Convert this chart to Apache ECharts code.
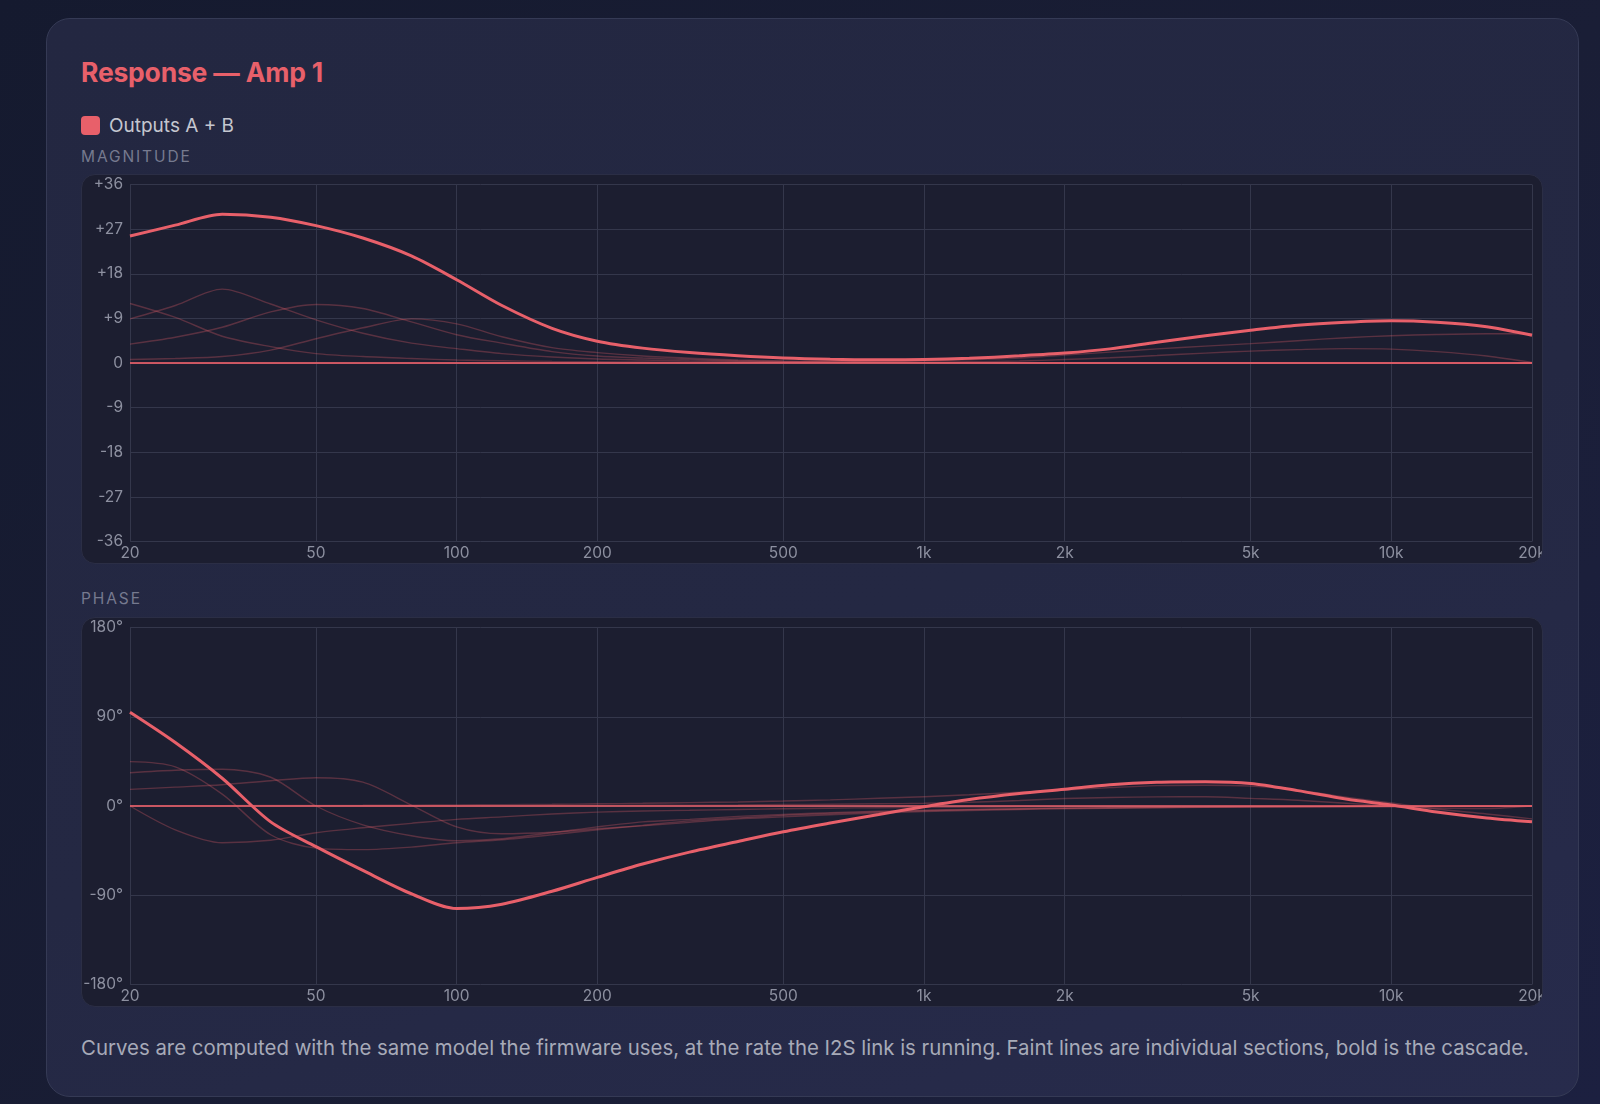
<!DOCTYPE html>
<html>
<head>
<meta charset="utf-8">
<script src="https://cdn.jsdelivr.net/npm/echarts@6/dist/echarts.min.js"></script>
<style>
  html, body { margin:0; padding:0; width:1600px; height:1104px; overflow:hidden;
    background: linear-gradient(135deg, #151a2f 0%, #1a1e36 60%, #1c2040 100%);
    font-family: Inter, "Noto Sans", "DejaVu Sans", sans-serif; }
  .card { position:absolute; left:46px; top:18px; width:1533px; height:1079px; box-sizing:border-box;
    border-radius:24px; border:1px solid #353a55;
    background: linear-gradient(160deg, #232741 0%, #242843 55%, #272b4c 100%); }
  .title { position:absolute; left:81px; top:55px; font-size:26.5px; font-weight:700; color:#e8606a; letter-spacing:-0.2px; line-height:34px; }
  .legend { position:absolute; left:81px; top:115px; height:20px; display:flex; align-items:center; }
  .sw { width:19px; height:19px; border-radius:4px; background:#e8606a; }
  .lt { margin-left:9px; font-size:19px; color:#c4c6cf; }
  .sec { position:absolute; left:81px; font-size:15.5px; letter-spacing:1.9px; color:#767a8f; }
  .box { position:absolute; left:81px; width:1462px; height:390px; box-sizing:border-box; border-radius:14px;
    background:#1c1e30; border:1px solid #2b2e45; overflow:hidden; }
  .chart { position:absolute; left:-1px; top:-1px; width:1462px; height:390px; }
  .note { position:absolute; left:81px; top:1035px; font-size:20.4px; color:#a7aab8; white-space:nowrap; }
</style>
</head>
<body>
<div class="card"></div>
<div class="title">Response — Amp 1</div>
<div class="legend"><div class="sw"></div><div class="lt">Outputs A + B</div></div>
<div class="sec" style="top:147px">MAGNITUDE</div>
<div class="box" style="top:174px"><div id="mag" class="chart"></div></div>
<div class="sec" style="top:589px">PHASE</div>
<div class="box" style="top:617px"><div id="ph" class="chart"></div></div>
<div class="note">Curves are computed with the same model the firmware uses, at the rate the I2S link is running. Faint lines are individual sections, bold is the cascade.</div>
<script>
// ---- data (third-octave points) ----
const freqs = [20,25,31.5,40,50,63,80,100,125,160,200,250,315,400,500,630,800,1000,1250,1600,2000,2500,3150,4000,5000,6300,8000,10000,12500,16000,20000];
const freqTicks = [20,50,100,200,500,1000,2000,5000,10000,20000];

// magnitude (dB)
const cascadeMag = [25.6,27.8,30.0,29.4,27.7,25.2,21.6,16.8,11.6,7.0,4.4,3.0,2.1,1.45,1.0,0.75,0.65,0.7,0.95,1.45,2.0,2.85,4.2,5.5,6.6,7.6,8.2,8.5,8.2,7.3,5.6];
const sec1Mag = [12.0,9.2,5.4,3.3,1.9,1.3,0.9,0.6,0.45,0.33,0.25,0.2,0.15,0.1,0.07,0.05,0.04,0.03,0.02,0.02,0.01,0,0,0,0,0,0,0,0,0,0];
const sec2Mag = [8.9,11.6,14.9,11.9,8.7,6.0,4.0,2.9,1.9,1.2,0.8,0.6,0.42,0.3,0.2,0.13,0.08,0.05,0.03,0.02,0.01,0,0,0,0,0,0,0,0,0,0];
const sec3Mag = [3.8,5.2,7.2,10.3,11.8,11.0,8.3,5.7,4.0,2.3,1.4,1.0,0.7,0.45,0.3,0.2,0.12,0.08,0.05,0.03,0.02,0,0,0,0,0,0,0,0,0,0];
const sec4Mag = [0.7,0.9,1.3,2.6,4.9,7.1,8.9,7.9,5.3,3.1,2.1,1.4,0.95,0.6,0.4,0.25,0.15,0.1,0.07,0.05,0.03,0,0,0,0,0,0,0,0,0,0];
const sec5Mag = [0,0,0,0,0,0,0,0,0,0,0.03,0.04,0.06,0.1,0.15,0.22,0.3,0.42,0.65,1.0,1.6,2.2,2.85,3.4,3.9,4.5,5.1,5.5,5.75,5.9,5.9];
const sec6Mag = [0,0,0,0,0,0,0,0,0,0,0.02,0.02,0.03,0.04,0.05,0.07,0.1,0.15,0.25,0.4,0.7,1.05,1.5,2.0,2.4,2.7,2.9,2.8,2.3,1.4,0.1];

// phase (degrees)
const cascadePh = [94.5,64,28,-16,-41,-65,-88.5,-103.4,-99,-86,-72,-58.5,-46.5,-35.8,-26,-17.2,-8.6,-0.7,6.5,12.5,16.8,21.5,24,24.5,22.8,15.5,7,1.0,-6,-12,-15.8];
const sec1Ph = [0,-24,-37,-34.5,-27,-22,-17.5,-13.5,-11,-8,-6.2,-5,-4.3,-3.5,-2.8,-2.2,-1.7,-1.4,-1.1,-0.9,-0.7,-0.55,-0.45,-0.35,-0.3,-0.25,-0.2,-0.15,-0.1,-0.05,0];
const sec2Ph = [44.7,39.5,12,-29,-42.5,-44,-41.5,-37,-34,-29,-24,-19.5,-15,-12,-9.5,-7.5,-6,-4.8,-3.8,-3,-2.4,-1.9,-1.5,-1.2,-1,-0.8,-0.6,-0.45,-0.35,-0.2,0];
const sec3Ph = [33.6,36,37,29,0,-19,-30,-35,-33,-27,-21,-16,-13.5,-10.5,-8.5,-6.7,-5.3,-4.2,-3.4,-2.7,-2.1,-1.7,-1.4,-1.1,-0.9,-0.7,-0.55,-0.45,-0.35,-0.2,0];
const sec4Ph = [16.8,19,21.5,25.5,28.5,24,1,-21,-28,-26.5,-23,-20,-16.5,-13,-11,-8.8,-7,-5.6,-4.5,-3.5,-2.8,-2.2,-1.8,-1.4,-1.1,-0.9,-0.7,-0.5,-0.4,-0.2,0];
const sec5Ph = [0.3,0.3,0.4,0.5,0.6,0.7,0.9,1.1,1.4,1.7,2.2,2.7,3.4,4.1,5,6.2,7.8,9.4,11.3,13.8,16,18.5,20.5,21,20,16,9,3,-3,-8,-13];
const sec6Ph = [0.1,0.1,0.1,0.1,0.2,0.2,0.3,0.3,0.4,0.45,0.5,0.7,0.85,1.0,1.5,1.8,2.2,2.7,3.8,5.5,7.5,8.6,9.2,9.4,7.7,5.8,2.8,0,-2,-2.5,0];

const magTicks = {min:-36, max:36, step:9};
const phTicks = {min:-180, max:180, step:90};

// ---- styling ----
const RED = '#e8606a';
const FAINT = 'rgba(232,96,106,0.30)';
const GRID = '#34374b';
const LABEL = '#8d90a0';
const FONT = 'Inter, "Noto Sans", "DejaVu Sans", sans-serif';
const lg = f => Math.log10(f);
const pts = arr => freqs.map((f, i) => [lg(f), arr[i]]);
function fmtF(v) {
  const f = Math.round(Math.pow(10, v));
  return f >= 1000 ? (f / 1000) + 'k' : String(f);
}

function build(sections, cascade, ticks, yFmt) {
  const series = sections.map((s, i) => ({
    type:'line', name:'section ' + (i + 1), data: pts(s), showSymbol:false, smooth:0.3,
    lineStyle:{ color:FAINT, width:1.4 }, silent:true, z:2
  }));
  series.push({
    type:'line', name:'Outputs A + B', data: pts(cascade), showSymbol:false, smooth:0.3,
    lineStyle:{ color:RED, width:3 }, z:4,
    markLine:{ symbol:'none', silent:true, label:{show:false},
      lineStyle:{ color:RED, width:1.6, type:'solid' }, data:[{ yAxis:0 }] }
  });
  const customX = freqTicks.map(lg);
  return {
    animation:false,
    grid:{ left:49, right:11, top:10.5, bottom:22.5, outerBoundsMode:'none', containLabel:false },
    xAxis:{
      type:'value', min:lg(20), max:lg(20000),
      axisLine:{show:false},
      axisTick:{ show:false, customValues: customX },
      axisLabel:{ customValues: customX, formatter: fmtF, color:LABEL, fontSize:15.5, fontFamily:FONT, margin:4, hideOverlap:false, showMinLabel:true, showMaxLabel:true },
      splitLine:{ show:true, lineStyle:{ color:GRID, width:1 } }
    },
    yAxis:{
      type:'value', min:ticks.min, max:ticks.max, interval:ticks.step,
      axisLine:{show:false}, axisTick:{show:false},
      axisLabel:{ formatter: yFmt, color:LABEL, fontSize:15.5, fontFamily:FONT, margin:7 },
      splitLine:{ show:true, lineStyle:{ color:GRID, width:1 } }
    },
    series
  };
}

const magChart = echarts.init(document.getElementById('mag'));
magChart.setOption(build([sec1Mag,sec2Mag,sec3Mag,sec4Mag,sec5Mag,sec6Mag], cascadeMag, magTicks,
  v => v > 0 ? '+' + v : String(v)));
const phChart = echarts.init(document.getElementById('ph'));
phChart.setOption(build([sec1Ph,sec2Ph,sec3Ph,sec4Ph,sec5Ph,sec6Ph], cascadePh, phTicks,
  v => v + '°'));
</script>
</body>
</html>
